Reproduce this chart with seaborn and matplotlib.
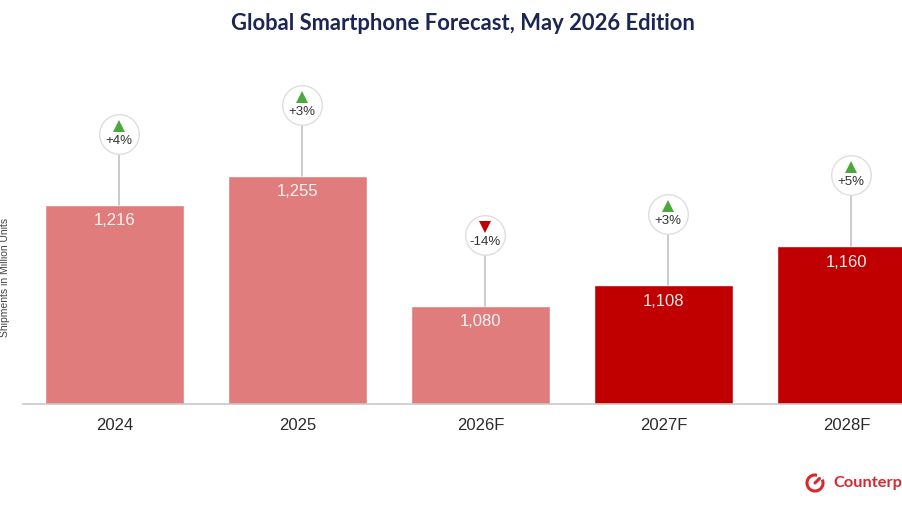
import matplotlib
matplotlib.use("Agg")
import matplotlib.pyplot as plt
import matplotlib.transforms as mtransforms
from matplotlib.patches import Arc
from matplotlib.lines import Line2D
import seaborn as sns
import pandas as pd

# ---- data ----
years = ["2024", "2025", "2026F", "2027F", "2028F"]
shipments = [1216, 1255, 1080, 1108, 1160]
growth = ["+4%", "+3%", "-14%", "+3%", "+5%"]
bar_colors = ["#E07C7C", "#E07C7C", "#E07C7C", "#C00000", "#C00000"]

sns.set_theme(style="white")
plt.rcParams["font.family"] = ["Liberation Sans", "DejaVu Sans"]

W, H, DPI = 903, 508, 100
fig = plt.figure(figsize=(W / DPI, H / DPI), dpi=DPI)
fig.patch.set_facecolor("white")

ymin, ymax = 948, 1300
px_per_unit = 0.743
ax_h_px = (ymax - ymin) * px_per_unit
ax = fig.add_axes([23 / W, (H - 404) / H, 915 / W, ax_h_px / H])

df = pd.DataFrame({"year": years, "units": shipments})
sns.barplot(data=df, x="year", y="units", hue="year", palette=bar_colors,
            legend=False, width=0.755, saturation=1, ax=ax, zorder=2)
ax.set_ylim(ymin, ymax)
ax.set_xlim(-0.5, len(years) - 0.5)

for s in ["top", "right", "left"]:
    ax.spines[s].set_visible(False)
ax.spines["bottom"].set_color("#c8c8c8")
ax.spines["bottom"].set_linewidth(1.2)
ax.set_yticks([])
ax.tick_params(axis="x", length=0, pad=10, labelsize=12, labelcolor="#2b2b2b")
ax.set_xlabel("")
ax.set_ylabel("")

up_px = 72   # circle above bar top (pixels)
dx_px = 4
for i, (v, g) in enumerate(zip(shipments, growth)):
    # value label
    ax.annotate(f"{v:,}", (i, v), xytext=(0, -16), textcoords="offset pixels",
                ha="center", va="center", fontsize=12, color="white", alpha=0.92, zorder=4)
    base = mtransforms.offset_copy(ax.transData, fig=fig, x=dx_px, y=0, units="dots")
    circ_t = mtransforms.offset_copy(ax.transData, fig=fig, x=dx_px, y=up_px - 1, units="dots")
    # connector line
    ax.plot([i, i], [v, v + up_px / px_per_unit], color="#bdbdbd", lw=1.1,
            transform=base, clip_on=False, zorder=3)
    # circle
    ax.plot([i], [v], marker="o", markersize=28.5, markerfacecolor="white",
            markeredgecolor="#dedede", markeredgewidth=1.0, transform=circ_t,
            clip_on=False, zorder=5)
    up = not g.startswith("-")
    tri_t = mtransforms.offset_copy(ax.transData, fig=fig, x=dx_px, y=up_px + 7, units="dots")
    ax.plot([i], [v], marker="^" if up else "v", markersize=8,
            color="#4CA83C" if up else "#C00000", markeredgewidth=0,
            transform=tri_t, clip_on=False, zorder=6)
    txt_t = mtransforms.offset_copy(ax.transData, fig=fig, x=dx_px, y=up_px - 8, units="dots")
    ax.text(i, v, g, transform=txt_t, ha="center", va="center", fontsize=9.5,
            color="#333333", clip_on=False, zorder=6)

# title
fig.text(463 / W, 1 - 23 / H, "Global Smartphone Forecast, May 2026 Edition",
         ha="center", va="center", fontsize=15.8, fontweight="bold",
         family=["Lato", "DejaVu Sans"], color="#1C2653")

# y-axis label
fig.text(5 / W, 1 - 277 / H, "Shipments in Million Units", rotation=90,
         ha="center", va="center", fontsize=7.5, color="#444444")

# logo
logo_red = "#D7282F"
cx, cy = 815 / DPI, (H - 483) / DPI
fig.patches.append(Arc((cx, cy), 0.16, 0.16, theta1=75, theta2=25,
                       transform=fig.dpi_scale_trans, ec=logo_red, lw=2.2))
fig.lines.append(Line2D([cx, cx + 0.045], [cy, cy + 0.045], transform=fig.dpi_scale_trans,
                        color=logo_red, lw=2.2, solid_capstyle="round"))
fig.text(833 / W, 1 - 483 / H, "Counterp", ha="left", va="center",
         fontsize=11.8, fontweight="bold", family=["Lato", "DejaVu Sans"], color=logo_red)

fig.savefig("out.png", dpi=DPI)
